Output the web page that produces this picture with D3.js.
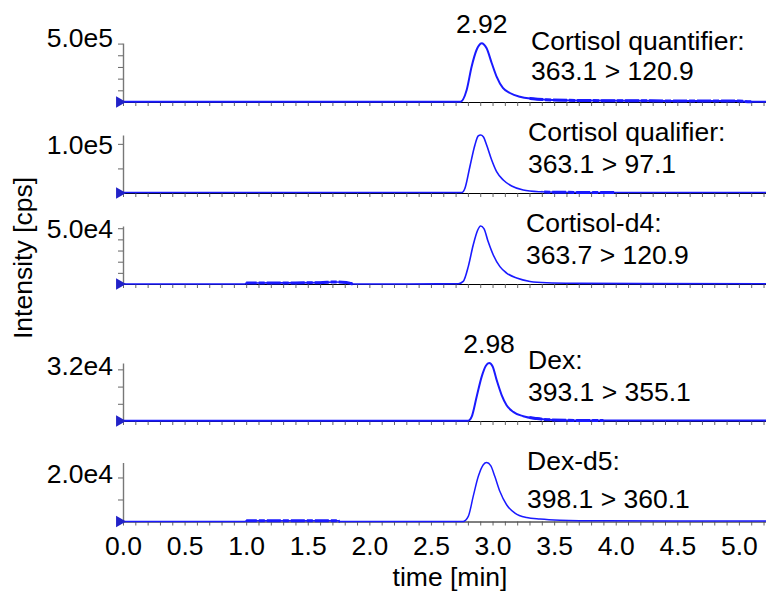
<!DOCTYPE html>
<html><head><meta charset="utf-8">
<script src="https://cdn.jsdelivr.net/npm/d3@7"></script>
<style>
body{margin:0;background:#fff}
svg{display:block}
text{font-family:"Liberation Sans",Arial,Helvetica,sans-serif;fill:#000}
</style>
</head><body>
<svg id="chart" width="766" height="594"></svg>
<script>
// ---------------- DATA ----------------
const timeTickLabels = [0.0,0.5,1.0,1.5,2.0,2.5,3.0,3.5,4.0,4.5,5.0];
const compoundNames = ["Cortisol quantifier:", "Cortisol qualifier:", "Cortisol-d4:", "Dex:", "Dex-d5:"];
const transitions = ["363.1 > 120.9", "363.1 > 97.1", "363.7 > 120.9", "393.1 > 355.1", "398.1 > 360.1"];
const yMaxValues = [5.05e5, 1.18e5, 5.2e4, 3.37e4, 2.68e4];
const yLabelValues = [5.0e5, 1.0e5, 5.0e4, 3.2e4, 2.0e4];
const yLabelTexts = ["5.0e5", "1.0e5", "5.0e4", "3.2e4", "2.0e4"];
const yTickSteps = [1e5, 0.5e5, 1e4, 1e4, 1e4];
const peakLabelPanels = [0, 3];
const peakLabelTimes = [2.92, 2.98];
const peakLabelTexts = ["2.92", "2.98"];

// Cortisol quantifier 363.1 > 120.9
const cortQuantTime = [0, 1.0, 2.0, 2.6, 2.74, 2.79, 2.83, 2.87, 2.89, 2.912, 2.93, 2.952, 2.993, 3.033, 3.084, 3.141, 3.222, 3.328, 3.49, 3.8, 4.2, 4.6, 5.0, 5.09, 5.22];
const cortQuantInt  = [0.02e5, 0.02e5, 0.02e5, 0.02e5, 0.03e5, 1.03e5, 3.02e5, 4.45e5, 4.85e5, 5.02e5, 4.92e5, 4.6e5, 3.34e5, 2.17e5, 1.2e5, 0.77e5, 0.45e5, 0.28e5, 0.17e5, 0.12e5, 0.1e5, 0.09e5, 0.08e5, 0.02e5, 0.02e5];
// Cortisol qualifier 363.1 > 97.1
const cortQualTime = [0, 2.0, 2.6, 2.752, 2.776, 2.816, 2.857, 2.884, 2.903, 2.925, 2.952, 2.993, 3.033, 3.087, 3.155, 3.249, 3.385, 3.52, 3.9, 4.5, 5.22];
const cortQualInt  = [0.01e5, 0.01e5, 0.01e5, 0.01e5, 0.096e5, 0.535e5, 0.977e5, 1.16e5, 1.18e5, 1.145e5, 0.977e5, 0.671e5, 0.434e5, 0.264e5, 0.142e5, 0.061e5, 0.025e5, 0.015e5, 0.01e5, 0.01e5, 0.01e5];
// Cortisol-d4 363.7 > 120.9
const cortD4Time = [0, 0.99, 1.0, 1.2, 1.4, 1.6, 1.72, 1.78, 1.84, 1.87, 2.3, 2.722, 2.762, 2.803, 2.843, 2.879, 2.903, 2.930, 2.965, 3.006, 3.060, 3.114, 3.196, 3.304, 3.44, 3.7, 4.2, 5.22];
const cortD4Int  = [0, 0, 0.08e4, 0.1e4, 0.1e4, 0.12e4, 0.18e4, 0.16e4, 0.08e4, 0, 0, 0.02e4, 0.23e4, 1.56e4, 3.49e4, 4.82e4, 5.2e4, 4.97e4, 3.78e4, 2.6e4, 1.56e4, 0.98e4, 0.53e4, 0.23e4, 0.11e4, 0.06e4, 0.03e4, 0.02e4];
// Dex 393.1 > 355.1
const dexTime = [0, 2.0, 2.803, 2.830, 2.871, 2.912, 2.946, 2.973, 3.001, 3.033, 3.074, 3.114, 3.168, 3.249, 3.358, 3.493, 3.8, 4.5, 5.22];
const dexInt  = [0.02e4, 0.02e4, 0.02e4, 0.235e4, 1.41e4, 2.58e4, 3.21e4, 3.37e4, 3.17e4, 2.39e4, 1.51e4, 0.92e4, 0.53e4, 0.28e4, 0.14e4, 0.06e4, 0.03e4, 0.03e4, 0.03e4];
// Dex-d5 398.1 > 360.1
const dexD5Time = [0, 0.99, 1.0, 1.75, 1.76, 2.762, 2.803, 2.843, 2.884, 2.925, 2.952, 2.985, 3.019, 3.060, 3.114, 3.182, 3.277, 3.385, 3.547, 3.9, 4.5, 5.22];
const dexD5Int  = [0, 0, 0.03e4, 0.03e4, 0, 0, 0.23e4, 1.14e4, 2.04e4, 2.58e4, 2.68e4, 2.54e4, 2.04e4, 1.36e4, 0.76e4, 0.38e4, 0.18e4, 0.11e4, 0.06e4, 0.03e4, 0.02e4, 0.02e4];

const seriesTimes = [cortQuantTime, cortQualTime, cortD4Time, dexTime, dexD5Time];
const seriesInts  = [cortQuantInt, cortQualInt, cortD4Int, dexInt, dexD5Int];
// time ranges where the trace is drawn with a thicker (noisy) stroke
const noiseStart = [3.3, 3.4, 1.0, 3.3, 1.0];
const noiseEnd   = [5.1, 4.0, 1.87, 3.9, 1.76];

// ---------------- LAYOUT ----------------
const panelBase = [102, 193, 284, 421, 521.5];
const panelTop  = [43, 135, 226, 363, 462.5];
const yLabelDy  = [3.5, 10, 10, 9, 6];
const traceWidth = [2.0, 1.6, 1.6, 2.0, 1.5];
const nameX = [531, 528, 526, 528, 527];
const FS = 26.5;
const blue = "#1a1aff";

const svg = d3.select("#chart");
const x = d3.scaleLinear().domain([0, 5.22]).range([123, 766]);

const defs = svg.append("defs");

seriesTimes.forEach((times, i) => {
  const y = d3.scaleLinear().domain([0, yMaxValues[i]]).range([panelBase[i], panelTop[i]]);
  const g = svg.append("g");
  const data = times.map((t, k) => [t, seriesInts[i][k]]);

  // x axis (baseline) with minor ticks
  const xa = g.append("g").attr("transform", `translate(0,${panelBase[i]})`)
    .call(d3.axisBottom(x).tickValues(d3.range(0, 53).map(k => k / 10)).tickSize(4).tickSizeOuter(0).tickFormat(""));
  xa.select(".domain").attr("stroke", "#000").attr("stroke-width", 1);
  xa.selectAll(".tick line").attr("stroke", "#555").attr("stroke-width", 0.9);

  // y axis
  const ticks = d3.range(yTickSteps[i], yMaxValues[i] + 1, yTickSteps[i]);
  const ya = g.append("g").attr("transform", `translate(${x(0)},0)`)
    .call(d3.axisLeft(y).tickValues(ticks).tickSize(5).tickSizeOuter(0).tickFormat(""));
  ya.select(".domain").attr("stroke", "#777").attr("stroke-width", 1.4);
  ya.selectAll(".tick line").attr("stroke", "#666").attr("stroke-width", 1);

  g.append("text").attr("x", 113).attr("y", y(yLabelValues[i]) + yLabelDy[i])
    .attr("text-anchor", "end").attr("font-size", FS).text(yLabelTexts[i]);

  // trace
  const line = d3.line().x(d => x(d[0])).y(d => y(d[1])).curve(d3.curveMonotoneX);
  g.append("path").datum(data).attr("d", line).attr("fill", "none")
    .attr("stroke", blue).attr("stroke-width", traceWidth[i]).attr("stroke-linejoin", "round");

  // thicker noisy stretch
  const cid = "clip" + i;
  defs.append("clipPath").attr("id", cid).append("rect")
    .attr("x", x(noiseStart[i])).attr("width", x(noiseEnd[i]) - x(noiseStart[i]))
    .attr("y", panelTop[i]).attr("height", panelBase[i] - panelTop[i] + 6);
  g.append("path").datum(data).attr("d", line).attr("fill", "none")
    .attr("clip-path", `url(#${cid})`)
    .attr("stroke", blue).attr("stroke-width", 3).attr("stroke-dasharray", "14,2,6,2");

  // start marker
  g.append("path").attr("d", d3.symbol().type(d3.symbolTriangle).size(58)())
    .attr("transform", `translate(${x(0) - 3.6},${panelBase[i]}) rotate(90)`)
    .attr("fill", "#2222c8");

  // compound label
  g.append("text").attr("x", nameX[i]).attr("y", panelBase[i] - 52).attr("font-size", FS).text(compoundNames[i]);
  g.append("text").attr("x", nameX[i]).attr("y", panelBase[i] - 20 + (i === 4 ? 6 : 0) - (i === 0 ? 2 : 0)).attr("font-size", FS).text(transitions[i]);

  // peak label
  const pi = peakLabelPanels.indexOf(i);
  if (pi >= 0) {
    g.append("text").attr("x", x(peakLabelTimes[pi]) - 1).attr("y", y(yMaxValues[i]) - 10)
      .attr("text-anchor", "middle").attr("font-size", FS).text(peakLabelTexts[pi]);
  }

  // bottom tick labels
  if (i === seriesTimes.length - 1) {
    const la = g.append("g").attr("transform", `translate(0,${panelBase[i]})`)
      .call(d3.axisBottom(x).tickValues(timeTickLabels).tickSize(0).tickPadding(14.5).tickFormat(d3.format(".1f")));
    la.select(".domain").remove();
    la.selectAll("text").attr("font-size", FS).attr("font-family", '"Liberation Sans",Arial,sans-serif').attr("fill", "#000");
  }
});

// axis titles
svg.append("text").attr("x", 450).attr("y", 586).attr("text-anchor", "middle").attr("font-size", FS).text("time [min]");
svg.append("text").attr("transform", "translate(32,258) rotate(-90)").attr("text-anchor", "middle").attr("font-size", FS).text("Intensity [cps]");
</script>
</body></html>
